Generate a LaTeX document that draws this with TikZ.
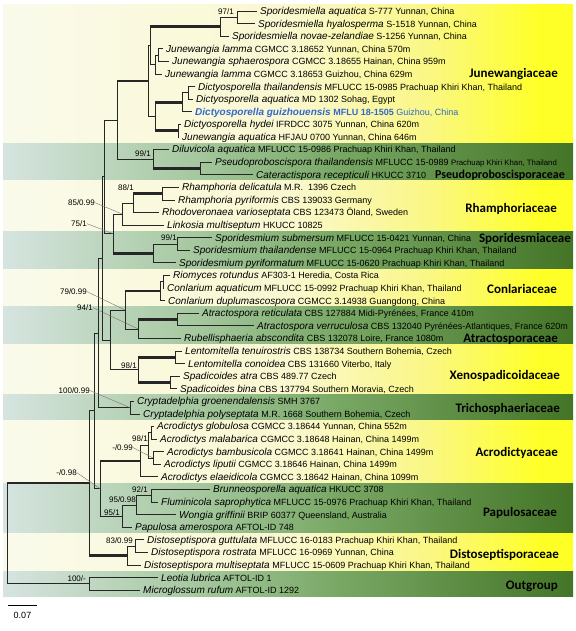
\documentclass[tikz,border=0pt]{standalone}
\usepackage{fontspec}
\setmainfont{Liberation Sans}
\newfontfamily\famfont{Carlito}
\usetikzlibrary{positioning}
\definecolor{yelA}{RGB}{250,250,236}
\definecolor{yelB}{RGB}{250,248,208}
\definecolor{yelC}{RGB}{250,247,135}
\definecolor{yelD}{RGB}{255,255,40}
\definecolor{grnA}{RGB}{214,228,224}
\definecolor{grnB}{RGB}{165,200,158}
\definecolor{grnC}{RGB}{118,166,98}
\definecolor{grnD}{RGB}{68,116,38}
\definecolor{newsp}{RGB}{52,104,204}
\pgfdeclarehorizontalshading{yelband}{100bp}{color(0bp)=(yelA); color(25bp)=(yelA); color(50bp)=(yelB); color(62bp)=(yelC); color(72bp)=(yelD); color(100bp)=(yelD)}
\pgfdeclarehorizontalshading{grnband}{100bp}{color(0bp)=(grnA); color(25bp)=(grnA); color(42bp)=(grnB); color(55bp)=(grnC); color(75bp)=(grnD); color(100bp)=(grnD)}

\begin{document}
\begin{tikzpicture}[x=1pt,y=-12.59pt,
  br/.style={line width=0.7pt,black!85},
  thk/.style={line width=2.6pt,black!85},
  ldr/.style={line width=0.4pt,black!55},
  bs/.style={anchor=base east,inner sep=0pt,font=\fontsize{8}{9}\selectfont},
  leaf/.style={anchor=base west,inner sep=0pt,xshift=3pt,yshift=-3.5pt,font=\fontsize{9}{10}\selectfont},
  fam/.style={anchor=east,inner sep=0pt,font=\famfont\bfseries\fontsize{13}{14}\selectfont}]
\useasboundingbox (0,0.1263) rectangle (576,50.246);
\foreach \a/\b/\s in {0.5/11.5/yelband,11.5/14.5/grnband,14.5/18.5/yelband,18.5/21.5/grnband,21.5/24.5/yelband,24.5/27.5/grnband,27.5/31.5/yelband,31.5/33.5/grnband,33.5/38.5/yelband,38.5/42.5/grnband,42.5/45.5/yelband,45.5/47.5/grnband}
  \shade[shading=\s] (3,\a) rectangle (573,\b);
% tips and inner nodes
\foreach \i/\x in {1/257,2/255,3/229,4/163,5/169,6/162,7/195,8/193,9/192,10/181,11/179,12/169,13/212,14/253,15/179,16/175,17/159,18/164,19/212,20/190,21/176,22/170,23/164,24/165,25/199,26/254,27/181,28/182,29/185,30/180,31/177,32/134,33/140,34/154,35/157,36/164,37/161,38/158,39/210,40/158,41/176,42/132,43/144,44/148,45/141,46/158,47/140}
  \coordinate (l\i) at (\x,\i);
\foreach \n/\x/\y in {Sa/237/1.5,Sm/220/2.25,Jls/158/4.5,Jl/155/5.25,Sx/150/3.75,Dt/188/7.5,Dc/182/8.25,Dh/178/10.5,Dy/155/9.375,Jw/148/6.5625,P2/200/13.5,P1/153/12.75,J/117/9.65625,Rp/162/15.5,R88/133/16.25,Rh/122/17.125,Sd2/177/19.5,Sd/153/20.25,S/113/18.6875,V/104/14.171875,Co2/163/22.5,Co/160/23.25,Ar/177/25.5,At/138/26.25,CA/125/24.75,Le/175/28.5,Sp/170/30.5,Xe/138/29.5,X/110/27.125,U/102/20.6484,Cr/130/32.5,B/98/26.5742,G/151/34.5,Bl/153/36.5,Ad/148/35.5,Ac/140/36.75,Pb/151/39.5,Pq/136/40.25,Pp/122/41.125,C/100/38.9375,A/94/32.7559,Dg/135/43.5,Ds/127/44.25,I/89/38.5029,O/89/46.5,R/7/42.5015}
  \coordinate (\n) at (\x,\y);
\foreach \p/\c in {Sa/l1,Sa/l2,Sm/Sa,Sm/l3,Jls/l4,Jls/l5,Jl/Jls,Jl/l6,Sx/Jl,Dt/l7,Dt/l8,Dc/Dt,Dc/l9,Dh/l10,Dh/l11,Jw/Sx,Jw/Dy,P2/l13,P2/l14,P1/l12,J/P1,V/J,V/S,Rp/l15,Rp/l16,R88/l17,Rh/R88,Rh/l18,Sd2/l19,Sd2/l20,Sd/Sd2,Sd/l21,S/Rh,U/V,U/X,Co2/l22,Co2/l23,Co/Co2,Co/l24,Ar/l25,Ar/l26,At/l27,CA/At,X/CA,X/Xe,Le/l28,Le/l29,Sp/l30,Sp/l31,B/U,B/Cr,Cr/l32,Cr/l33,A/B,A/C,G/l34,G/l35,Bl/l36,Bl/l37,Ad/G,Ad/Bl,Ac/Ad,Ac/l38,Pb/l39,Pb/l40,Pq/Pb,Pq/l41,Pp/Pq,Pp/l42,C/Pp,I/A,Dg/l43,Dg/l44,Ds/Dg,Ds/l45,O/l46,O/l47,R/O}
  \draw[br] (\p) |- (\c);
\foreach \p/\c in {J/Jw,Sx/Sm,Dy/Dc,Dy/Dh,P1/P2,R88/Rp,S/Sd,CA/Co,At/Ar,Xe/Le,Xe/Sp,C/Ac,I/Ds,R/I}
  {\draw[br] (\p) -- (\p|-\c); \draw[thk] (\p|-\c) -- (\c);}
% taxa
\foreach \i/\sp/\info in {
 1/{Sporidesmiella aquatica}/{S-777 Yunnan, China},
 2/{Sporidesmiella hyalosperma}/{S-1518 Yunnan, China},
 3/{Sporidesmiella novae-zelandiae}/{S-1256 Yunnan, China},
 4/{Junewangia lamma}/{CGMCC 3.18652 Yunnan, China 570m},
 5/{Junewangia sphaerospora}/{CGMCC 3.18655 Hainan, China 959m},
 6/{Junewangia lamma}/{CGMCC 3.18653 Guizhou, China 629m},
 7/{Dictyosporella thailandensis}/{MFLUCC 15-0985 Prachuap Khiri Khan, Thailand},
 8/{Dictyosporella aquatica}/{MD 1302 Sohag, Egypt},
 9/{\color{newsp}\bfseries Dictyosporella guizhouensis}/{\color{newsp}\textbf{MFLU 18-1505} Guizhou, China},
 10/{Dictyosporella hydei}/{IFRDCC 3075 Yunnan, China 620m},
 11/{Junewangia aquatica}/{HFJAU 0700 Yunnan, China 646m},
 12/{Diluvicola aquatica}/{MFLUCC 15-0986 Prachuap Khiri Khan, Thailand},
 13/{Pseudoproboscispora thailandensis}/{MFLUCC 15-0989 {\fontsize{7.8}{8}\selectfont Prachuap Khiri Khan, Thailand}},
 14/{Cateractispora recepticuli}/{HKUCC 3710},
 15/{Rhamphoria delicatula}/{M.R. \ 1396 Czech},
 16/{Rhamphoria pyriformis}/{CBS 139033 Germany},
 17/{Rhodoveronaea varioseptata}/{CBS 123473 Öland, Sweden},
 18/{Linkosia multiseptum}/{HKUCC 10825},
 19/{Sporidesmium submersum}/{MFLUCC 15-0421 Yunnan, China},
 20/{Sporidesmium thailandense}/{MFLUCC 15-0964 Prachuap Khiri Khan, Thailand},
 21/{Sporidesmium pyriformatum}/{MFLUCC 15-0620 Prachuap Khiri Khan, Thailand},
 22/{Riomyces rotundus}/{AF303-1 Heredia, Costa Rica},
 23/{Conlarium aquaticum}/{MFLUCC 15-0992 Prachuap Khiri Khan, Thailand},
 24/{Conlarium duplumascospora}/{CGMCC 3.14938 Guangdong, China},
 25/{Atractospora reticulata}/{CBS 127884 Midi-Pyrénées, France 410m},
 26/{Atractospora verruculosa}/{CBS 132040 Pyrénées-Atlantiques, France 620m},
 27/{Rubellisphaeria abscondita}/{CBS 132078 Loire, France 1080m},
 28/{Lentomitella tenuirostris}/{CBS 138734 Southern Bohemia, Czech},
 29/{Lentomitella conoidea}/{CBS 131660 Viterbo, Italy},
 30/{Spadicoides atra}/{CBS 489.77 Czech},
 31/{Spadicoides bina}/{CBS 137794 Southern Moravia, Czech},
 32/{Cryptadelphia groenendalensis}/{SMH 3767},
 33/{Cryptadelphia polyseptata}/{M.R. 1668 Southern Bohemia, Czech},
 34/{Acrodictys globulosa}/{CGMCC 3.18644 Yunnan, China 552m},
 35/{Acrodictys malabarica}/{CGMCC 3.18648 Hainan, China 1499m},
 36/{Acrodictys bambusicola}/{CGMCC 3.18641 Hainan, China 1499m},
 37/{Acrodictys liputii}/{CGMCC 3.18646 Hainan, China 1499m},
 38/{Acrodictys elaeidicola}/{CGMCC 3.18642 Hainan, China 1099m},
 39/{Brunneosporella aquatica}/{HKUCC 3708},
 40/{Fluminicola saprophytica}/{MFLUCC 15-0976 Prachuap Khiri Khan, Thailand},
 41/{Wongia griffinii}/{BRIP 60377 Queensland, Australia},
 42/{Papulosa amerospora}/{AFTOL-ID 748},
 43/{Distoseptispora guttulata}/{MFLUCC 16-0183 Prachuap Khiri Khan, Thailand},
 44/{Distoseptispora rostrata}/{MFLUCC 16-0969 Yunnan, China},
 45/{Distoseptispora multiseptata}/{MFLUCC 15-0609 Prachuap Khiri Khan, Thailand},
 46/{Leotia lubrica}/{AFTOL-ID 1},
 47/{Microglossum rufum}/{AFTOL-ID 1292}}
  \node[leaf] (t\i) at (l\i) {{\fontsize{10}{12}\selectfont\itshape\sp} \info};
% support values
\node[bs] (b97) at (234,1.28) {97/1};
\node[bs] (b99a) at (151,12.56) {99/1};
\node[bs] (b88) at (134,15.26) {88/1};
\node[bs] (b85) at (95,16.45) {85/0.99}; \draw[ldr] (b85.east) -- (Rh);
\node[bs] (b75) at (87,18.12) {75/1}; \draw[ldr] (b75.east) -- (S);
\node[bs] (b99b) at (177,19.23) {99/1};
\node[bs] (b79) at (87,23.52) {79/0.99}; \draw[ldr] (b79.east) -- (CA);
\node[bs] (b94) at (93,24.79) {94/1}; \draw[ldr] (b94.east) -- (At);
\node[bs] (b98a) at (137,29.4) {98/1};
\node[bs] (b100a) at (90,31.38) {100/0.99}; \draw[ldr] (b100a.east) -- (Cr);
\node[bs] (b98b) at (148,35.19) {98/1};
\node[bs] (bm99) at (133,35.9) {-/0.99}; \draw[ldr] (bm99.east) -- (Bl);
\node[bs] (bm98) at (77,37.9) {-/0.98}; \draw[ldr] (bm98.east) -- (C);
\node[bs] (b92) at (148,39.24) {92/1};
\node[bs] (b95a) at (136,40.04) {95/0.98};
\node[bs] (b95b) at (120,41.07) {95/1};
\node[bs] (b83) at (133,43.3) {83/0.99};
\node[bs] (b100b) at (86,46.31) {100/-};
% families
\node[fam] (f1) at (558,6.0) {Junewangiaceae};
\node[fam,font=\famfont\bfseries\fontsize{12}{13}\selectfont] (f2) at (565,14.08) {Pseudoproboscisporaceae};
\node[fam] (f3) at (557,16.7) {Rhamphoriaceae};
\node[fam] (f4) at (571,19.1) {Sporidesmiaceae};
\node[fam] (f5) at (557,23.1) {Conlariaceae};
\node[fam] (f6) at (558,27.05) {Atractosporaceae};
\node[fam] (f7) at (560,30.0) {Xenospadicoidaceae};
\node[fam] (f8) at (560,32.6) {Trichosphaeriaceae};
\node[fam] (f9) at (558,36.1) {Acrodictyaceae};
\node[fam] (f10) at (557,40.9) {Papulosaceae};
\node[fam] (f11) at (559,44.2) {Distoseptisporaceae};
\node[fam] (f12) at (558,46.7) {Outgroup};
% scale
\coordinate (sb1) at (8,48.18); \coordinate (sb2) at (37,48.18);
\draw[line width=0.8pt] (sb1) -- (sb2) node[midway,below=3pt,font=\fontsize{9}{10}\selectfont] (sbl) {0.07};
\end{tikzpicture}
\end{document}
